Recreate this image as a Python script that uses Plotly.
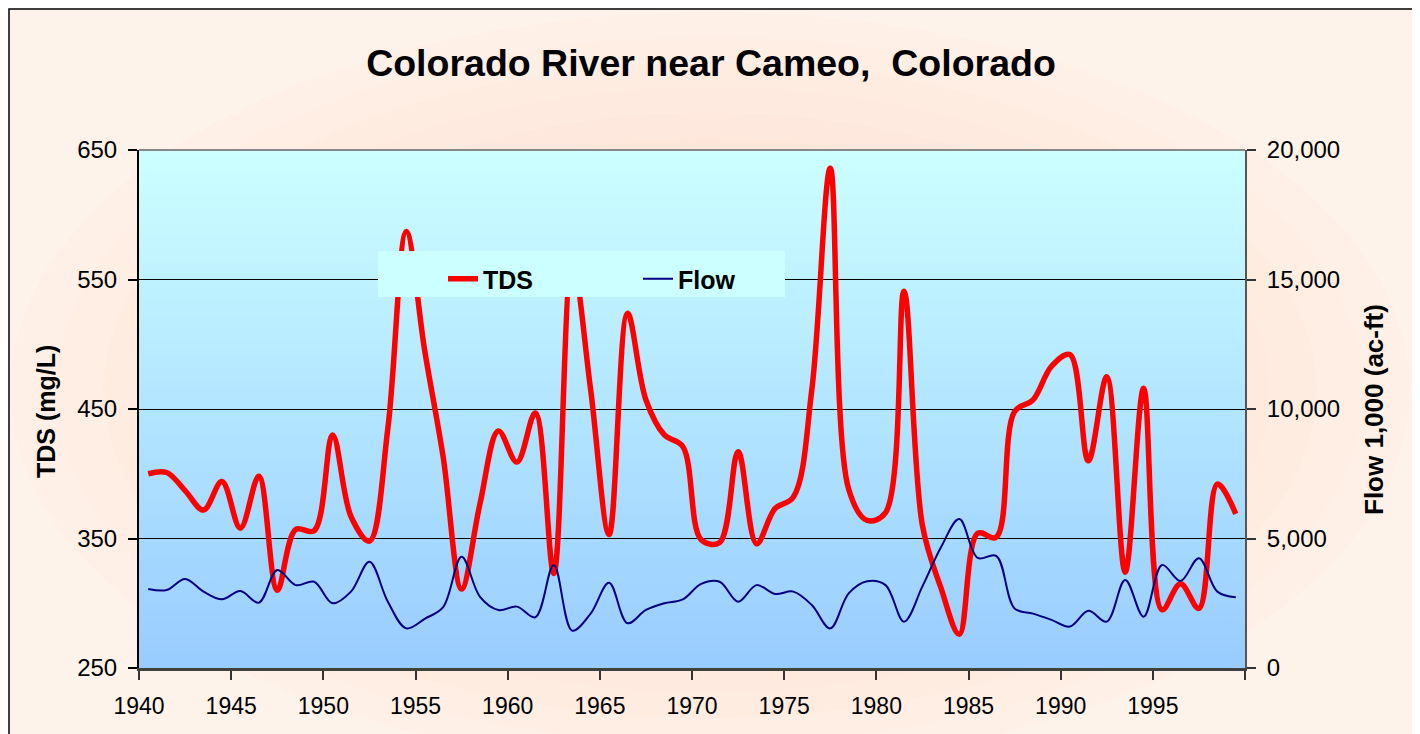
import plotly.graph_objects as go

# ---- data ----
years = list(range(1940, 2000))
tds = [400, 401, 387, 372, 394, 358, 398, 310, 357, 356,
       430, 367, 348, 435, 587, 495, 413, 311, 377, 433,
       409, 447, 323, 565, 465, 353, 524, 457, 430, 421,
       349, 347, 417, 346, 373, 382, 465, 636, 388, 364,
       370, 541, 360, 312, 276, 354, 351, 448, 457, 483,
       492, 410, 475, 324, 466, 295, 315, 296, 392, 369]
flow = [3050, 3010, 3440, 2950, 2650, 2970, 2520, 3780, 3200, 3330,
        2500, 2950, 4100, 2560, 1530, 1900, 2350, 4300, 2750, 2240,
        2370, 1960, 3980, 1440, 2100, 3290, 1730, 2240, 2500, 2650,
        3250, 3330, 2560, 3200, 2860, 2950, 2430, 1530, 2880, 3350,
        3200, 1790, 3150, 4650, 5750, 4250, 4330, 2300, 2100, 1860,
        1600, 2210, 1790, 3400, 1980, 3980, 3360, 4240, 2950, 2730]
x_tick_vals = list(range(1940, 2001, 5))
x_tick_text = [str(v) for v in range(1940, 1996, 5)] + [""]
tds_ticks = [250, 350, 450, 550, 650]
flow_ticks = [0, 5000, 10000, 15000, 20000]

# data points sit at mid-year
xpos = [y + 0.5 for y in years]

# page body adds an 8px offset; work in reference pixel coordinates
OFF = 8
W, H = 1420 - OFF, 734 - OFF
PL, PR, PT, PB = 139, 1245, 150, 668          # plot area in reference px
L, T = PL - OFF, PT - OFF
PW, PH = PR - PL, PB - PT
R = W - L - PW
B = H - T - PH

def px2x(px):
    return (px - PL) / PW

def py2y(py):
    return (PB - py) / PH

FONT = "Liberation Sans, Arial, sans-serif"

fig = go.Figure()
fig.add_trace(go.Scatter(
    x=xpos, y=tds, name="TDS", mode="lines",
    line=dict(color="#FF0000", width=5.5, shape="spline", smoothing=1.0),
    yaxis="y"))
fig.add_trace(go.Scatter(
    x=xpos, y=flow, name="Flow", mode="lines",
    line=dict(color="#000080", width=2, shape="spline", smoothing=1.0),
    yaxis="y2"))

shapes = []
# outer frame
shapes.append(dict(type="rect", xref="paper", yref="paper",
                   x0=px2x(9), x1=px2x(1414), y0=py2y(745), y1=py2y(9),
                   fillcolor="#FEF3EA", line=dict(color="#000000", width=1.5),
                   layer="below"))
# soft radial peach glow
NE = 14
cx, cy = 710, 390
for j in range(NE):
    f = 1 - j / (NE + 1)
    hw, hh = 700 * f, 378 * f
    shapes.append(dict(type="circle", xref="paper", yref="paper",
                       x0=px2x(cx - hw), x1=px2x(cx + hw),
                       y0=py2y(cy + hh), y1=py2y(cy - hh),
                       fillcolor="#FAD9C4", opacity=0.07,
                       line=dict(width=0), layer="below"))
# plot-area vertical gradient
N = 90
top_c = (204, 255, 255)
bot_c = (153, 204, 255)
for k in range(N):
    t = (k + 0.5) / N
    c = tuple(round(bot_c[i] + (top_c[i] - bot_c[i]) * t) for i in range(3))
    shapes.append(dict(type="rect", xref="paper", yref="paper",
                       x0=0, x1=1, y0=k / N, y1=(k + 1) / N + 0.002,
                       fillcolor="rgb(%d,%d,%d)" % c, line=dict(width=0),
                       layer="below"))
# top border of plot area
shapes.append(dict(type="line", xref="paper", yref="paper", x0=0, x1=1, y0=1, y1=1,
                   line=dict(color="#888888", width=2)))
# legend box (covers the lines, like the reference)
shapes.append(dict(type="rect", xref="paper", yref="paper",
                   x0=px2x(378), x1=px2x(785), y0=py2y(297), y1=py2y(251),
                   fillcolor="#CCFFFF", line=dict(width=0), layer="above"))

annotations = [
    dict(text="TDS (mg/L)", xref="paper", yref="paper", x=px2x(46), y=py2y(412),
         showarrow=False, textangle=-90, xanchor="center", yanchor="middle",
         font=dict(family=FONT, size=25, color="#000000", weight="bold")),
    dict(text="Flow 1,000 (ac-ft)", xref="paper", yref="paper", x=px2x(1374), y=py2y(409),
         showarrow=False, textangle=-90, xanchor="center", yanchor="middle",
         font=dict(family=FONT, size=26, color="#000000", weight="bold")),
]

fig.update_layout(
    width=W, height=H,
    margin=dict(l=L, r=R, t=T, b=B),
    paper_bgcolor="#FFFFFF",
    plot_bgcolor="rgba(0,0,0,0)",
    title=dict(text="Colorado River near Cameo,  Colorado", x=(711 - OFF) / W, xanchor="center",
               y=1 - (63 - OFF) / H, yanchor="middle", xref="container", yref="container",
               font=dict(family=FONT, size=37.5, color="#000000", weight="bold")),
    xaxis=dict(range=[1940, 2000], tickvals=x_tick_vals, ticktext=x_tick_text,
               ticks="outside", ticklen=9, tickwidth=1.5, tickcolor="#333333",
               showline=True, linecolor="#404040", linewidth=2.5,
               showgrid=False, zeroline=False, ticklabelstandoff=7,
               tickfont=dict(family=FONT, size=23, color="#000000")),
    yaxis=dict(range=[250, 650], tickvals=tds_ticks,
               ticks="outside", ticklen=9, tickwidth=1.5, tickcolor="#000000",
               showline=True, linecolor="#000000", linewidth=2,
               showgrid=True, gridcolor="#000000", gridwidth=1, zeroline=False,
               ticklabelstandoff=6,
               tickfont=dict(family=FONT, size=24, color="#000000")),
    yaxis2=dict(range=[0, 20000], tickvals=flow_ticks, tickformat=",",
                overlaying="y", side="right",
                ticks="outside", ticklen=9, tickwidth=1.5, tickcolor="#333333",
                showline=True, linecolor="#555555", linewidth=2,
                showgrid=False, zeroline=False, ticklabelstandoff=6,
                tickfont=dict(family=FONT, size=24, color="#000000")),
    legend=dict(orientation="h", x=px2x(443), y=py2y(256), xanchor="left", yanchor="top",
                bgcolor="rgba(0,0,0,0)", borderwidth=0, entrywidth=150,
                font=dict(family=FONT, size=25, color="#000000", weight="bold")),
    shapes=shapes,
    annotations=annotations,
)

fig.write_html("out.html")
